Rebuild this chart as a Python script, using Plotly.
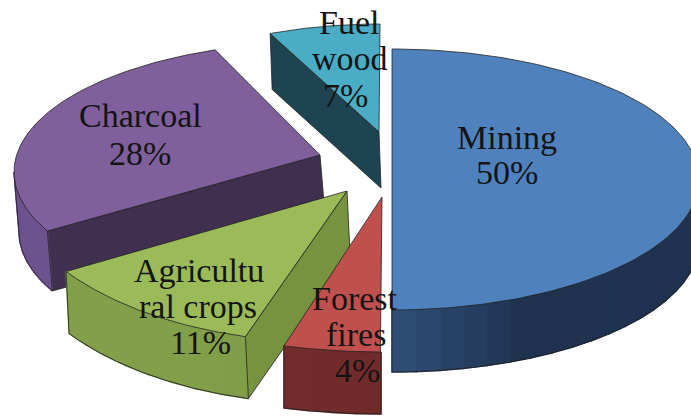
import numpy as np
import plotly.graph_objects as go

# Data, clockwise from 12 o'clock
CATEGORIES = ["Mining", "Forest fires", "Agricultural crops", "Charcoal", "Fuel wood"]
VALUES = [50, 4, 11, 28, 7]
LABEL_LINES = [["Mining", "50%"], ["Forest", "fires", "4%"], ["Agricultu", "ral crops", "11%"],
               ["Charcoal", "28%"], ["Fuel", "wood", "7%"]]

# Styling
TOP = ["#4f81bd", "#c0504d", "#9bbb59", "#7f609c", "#4bacc6"]
RIM_NEAR = ["#2f4f78", "#6f2a2a", "#7b9843", "#664c86", "#1f4752"]
RIM_FAR = ["#1f3350", "#772e2d", "#82a04a", "#6d5290", "#1f4752"]
RADIAL = [None, None, "#769340", "#403050", "#1d4450"]

# Simulated 3-D view: apex, rim ellipse centre and radii, depth vector, view rotation and foreshortening
APEX = [(392, 178), (382, 197), (347, 191), (320, 155), (379, 132)]
CENTRE = [(392, 179.5), (381, 158), (325, 171), (320, 172), (380, 124)]
RADII = [(307, 130.5), (390, 194), (320, 171), (306, 130), (258, 100)]
DEPTH = [(0, 62), (0, 62), (3, 62), (5, 60), (2, 56)]
ROTATE = [0, 0, 0, 9, 0]
SWEEP = [1, 1, 1, 0.962, 1]
LABEL_POS = [[(507, 137), (507, 172)], [(355, 298), (356, 334), (357, 370)],
             [(199, 270), (198, 306), (200, 342)], [(140, 115), (140, 153)],
             [(349, 22), (350, 58), (345, 95)]]
DRAW_ORDER = [3, 4, 2, 1, 0]
EDGE = "#222222"

fig = go.Figure()


def poly(xs, ys, fill, line=EDGE, width=0.8):
    fig.add_trace(go.Scatter(x=list(xs), y=list(ys), mode="lines", fill="toself", fillcolor=fill,
                             line=dict(color=line, width=width), hoverinfo="skip", showlegend=False))


def mix(a, b, f):
    ca = [int(a[i:i + 2], 16) for i in (1, 3, 5)]
    cb = [int(b[i:i + 2], 16) for i in (1, 3, 5)]
    return "rgb(" + ",".join(str(round(p + (q - p) * f)) for p, q in zip(ca, cb)) + ")"


ends = np.cumsum(VALUES) / np.sum(VALUES) * 360
starts = np.concatenate([[0], ends[:-1]])

for i in DRAW_ORDER:
    a0 = starts[i] + ROTATE[i]
    a1 = a0 + (ends[i] - starts[i]) * SWEEP[i]
    t0, t1 = np.radians(a0), np.radians(a1)
    ax, ay = APEX[i]
    ex, ey = CENTRE[i]
    rx, ry = RADII[i]
    dx, dy = DEPTH[i]
    t = np.linspace(t0, t1, 160)
    rim_x, rim_y = ex + rx * np.sin(t), ey - ry * np.cos(t)

    # radial face visible on the near side
    if RADIAL[i]:
        cx, cy = rim_x[0], rim_y[0]
        poly([ax, cx, cx + dx, ax + dx, ax], [ay, cy, cy + dy, ay + dy, ay], RADIAL[i])

    # curved outer wall, drawn as shaded strips
    lo, hi = max(t0, np.pi / 2), min(t1, 3 * np.pi / 2)
    if hi > lo:
        n = max(4, int((hi - lo) / np.pi * 40))
        edges = np.linspace(lo, hi, n + 1)
        for k in range(n):
            tt = np.linspace(edges[k], edges[k + 1], 6)
            sx, sy = ex + rx * np.sin(tt), ey - ry * np.cos(tt)
            f = min(1, abs(np.degrees((edges[k] + edges[k + 1]) / 2) - 180) / 25)
            c = mix(RIM_NEAR[i], RIM_FAR[i], f)
            poly(np.r_[sx, sx[::-1] + dx, sx[0]], np.r_[sy, sy[::-1] + dy, sy[0]], c, line=c, width=1.6)
        tt = np.linspace(lo, hi, 120)
        sx, sy = ex + rx * np.sin(tt), ey - ry * np.cos(tt)
        fig.add_trace(go.Scatter(x=sx + dx, y=sy + dy, mode="lines", line=dict(color=EDGE, width=0.9),
                                 hoverinfo="skip", showlegend=False))
        for px, py in ((sx[0], sy[0]), (sx[-1], sy[-1])):
            if 2 < px < 689:
                fig.add_trace(go.Scatter(x=[px, px + dx], y=[py, py + dy], mode="lines",
                                         line=dict(color=EDGE, width=0.8), hoverinfo="skip", showlegend=False))

    # top face
    poly(np.r_[ax, rim_x, ax], np.r_[ay, rim_y, ay], TOP[i])

annotations = []
for lines, positions in zip(LABEL_LINES, LABEL_POS):
    for text, (x, y) in zip(lines, positions):
        annotations.append(dict(x=x, y=y, text=text, showarrow=False, xanchor="center", yanchor="middle",
                                font=dict(family="Liberation Serif", size=34, color="#141414")))

fig.update_layout(
    width=691, height=416, autosize=False, margin=dict(l=0, r=0, t=0, b=0),
    paper_bgcolor="white", plot_bgcolor="white", showlegend=False, annotations=annotations,
    xaxis=dict(range=[0, 691], visible=False, fixedrange=True),
    yaxis=dict(range=[416, 0], visible=False, fixedrange=True),
)
fig.write_html("out.html", config=dict(displayModeBar=False),
               post_script="document.body.style.margin='0';document.documentElement.style.overflow='hidden';")
